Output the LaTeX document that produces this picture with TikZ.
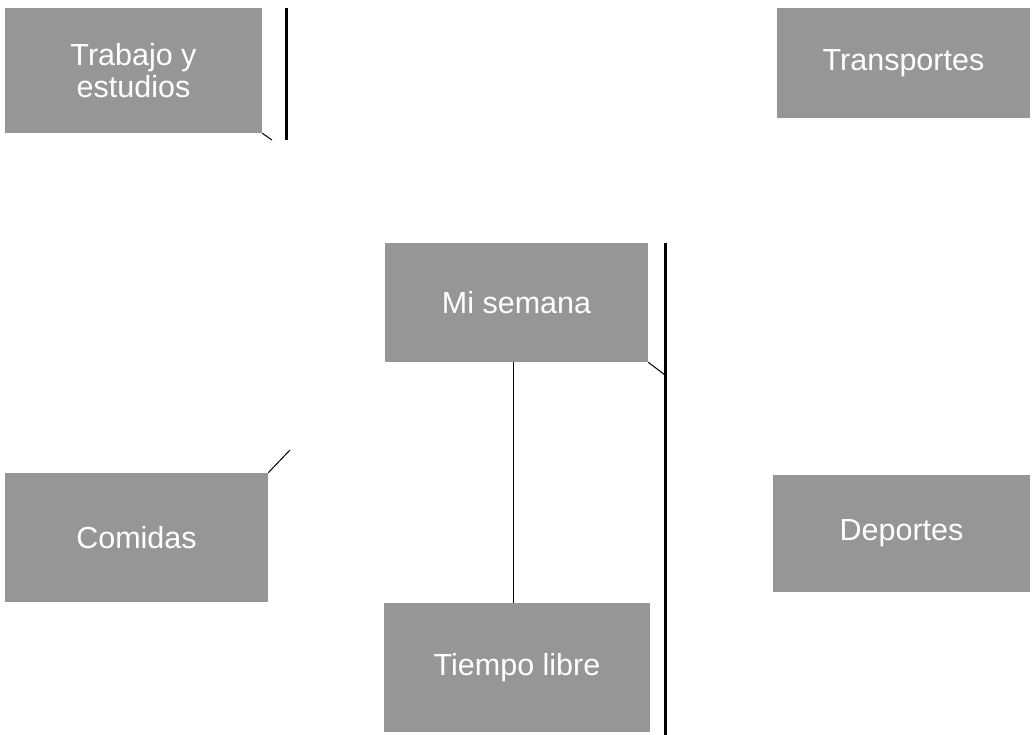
\documentclass[tikz,border=0pt]{standalone}
\usepackage{fontspec}
\setmainfont{Liberation Sans}
\definecolor{boxgray}{RGB}{150,150,150}
\begin{document}
\begin{tikzpicture}
	[
		x=1pt, y=-1pt,
		tema/.style = {
			shape=rectangle, fill=boxgray,
			inner sep=0pt, align=center,
			text=white, font=\fontsize{30.5}{32}\selectfont
		},
		raya/.style = {line width=3pt},
		trazo/.style = {line width=1pt}
	]
	\useasboundingbox (0,0) rectangle (1034,735);
	% temas
	\node[tema, minimum width=257, minimum height=125] (trabajo) at (133.5,70.5) {Trabajo y\\estudios};
	\node[tema, minimum width=253, minimum height=110] (transportes) at (903.5,63) {Transportes};
	\node[tema, minimum width=263, minimum height=119] (semana) at (516.5,302.5) {Mi semana};
	\node[tema, minimum width=263, minimum height=129] (comidas) at (136.5,537.5) {Comidas};
	\node[tema, minimum width=257, minimum height=117] (deportes) at (901.5,533.5) {Deportes};
	\node[tema, minimum width=266, minimum height=129] (tiempo) at (517,667.5) {Tiempo libre};
	% rayas
	\coordinate (rayaA1) at (286,8);
	\coordinate (rayaA2) at (286,140);
	\coordinate (rayaB1) at (665,243);
	\coordinate (rayaB2) at (665,735);
	\coordinate (finTrabajo) at (272,140);
	\coordinate (finSemana) at (665,375);
	\coordinate (finComidas) at (290,450);
	\draw[raya] (rayaA1) -- (rayaA2);
	\draw[raya] (rayaB1) -- (rayaB2);
	\draw[trazo] (trabajo.south east) -- (finTrabajo);
	\draw[trazo] (semana.south east) -- (finSemana);
	\draw[trazo] (comidas.north east) -- (finComidas);
	\draw[trazo] (semana.south -| 513,0) -- (tiempo.north -| 513,0);
\end{tikzpicture}
\end{document}
